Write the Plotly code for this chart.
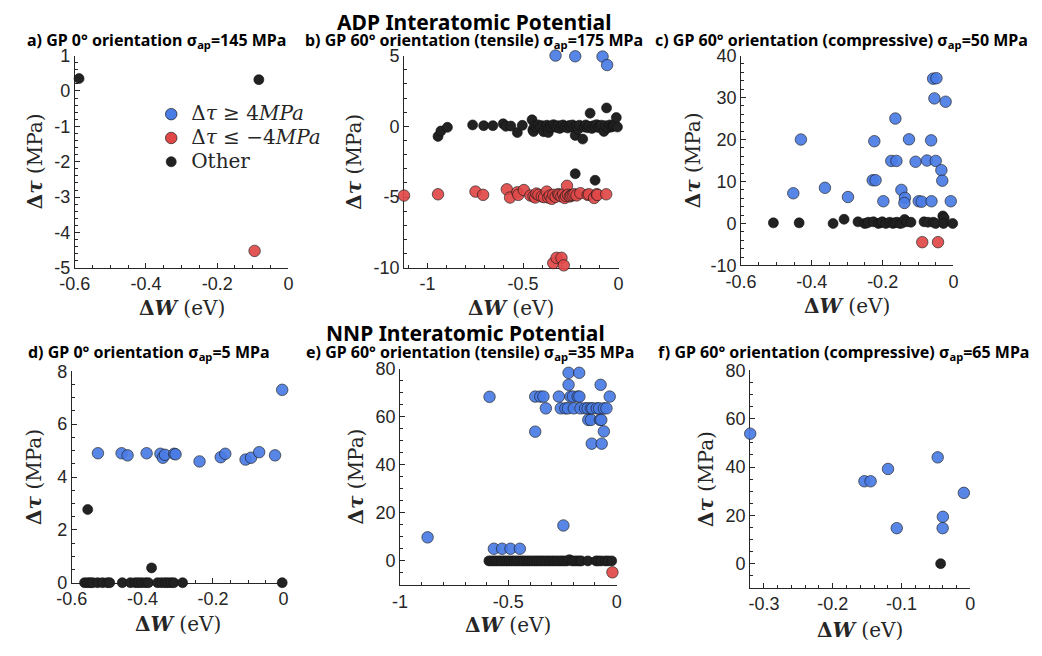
import plotly.graph_objects as go

W, H = 1042, 656

# ---------------- data ----------------
# panel a (ADP, GP 0deg, 145 MPa)
a_blue_x = []
a_blue_y = []
a_red_x = [-0.095]
a_red_y = [-4.52]
a_blk_x = [-0.588, -0.083]
a_blk_y = [0.35, 0.32]

# panel b (ADP, GP 60deg tensile, 175 MPa)
b_blue_x = [-0.33, -0.227, -0.084, -0.06]
b_blue_y = [5.0, 4.95, 4.93, 4.33]
b_red_x = [-1.123, -0.945, -0.749, -0.709, -0.585, -0.568, -0.530, -0.525, -0.496,
           -0.4615, -0.445, -0.436, -0.430, -0.419, -0.402, -0.390, -0.376, -0.368, -0.360,
           -0.350, -0.342, -0.330, -0.316, -0.310, -0.299, -0.290, -0.282, -0.275, -0.270,
           -0.265, -0.255, -0.248, -0.240, -0.231, -0.220, -0.200, -0.162, -0.155, -0.128,
           -0.114, -0.111, -0.065,
           -0.342, -0.325, -0.299, -0.287]
b_red_y = [-4.89, -4.80, -4.61, -4.84, -4.45, -5.03, -4.66, -4.84, -4.50,
           -4.89, -4.95, -5.03, -4.75, -4.84, -4.95, -5.00, -4.61, -5.03, -4.90,
           -5.12, -4.84, -4.98, -4.79, -4.85, -4.95, -4.80, -5.06, -4.92, -4.20,
           -4.84, -4.95, -4.89, -4.85, -4.79, -4.88, -4.72, -4.84, -4.80, -5.06,
           -4.79, -4.85, -4.80,
           -9.66, -9.29, -9.29, -9.82]
b_blk_x = [-0.945, -0.930, -0.896, -0.764, -0.706, -0.658, -0.604, -0.590, -0.564, -0.530,
           -0.504, -0.453, -0.449, -0.445, -0.440, -0.430, -0.420, -0.410, -0.400, -0.392,
           -0.383, -0.375, -0.368, -0.366, -0.358, -0.350, -0.341, -0.333, -0.325, -0.316,
           -0.308, -0.300, -0.291, -0.283, -0.275, -0.266, -0.258, -0.250, -0.241, -0.233,
           -0.227, -0.220, -0.212, -0.205, -0.188, -0.180, -0.172, -0.163, -0.155, -0.149,
           -0.140, -0.132, -0.123, -0.115, -0.106, -0.098, -0.090, -0.077, -0.070, -0.063,
           -0.055, -0.046, -0.038, -0.030, -0.026, -0.020, -0.012, -0.006,
           -0.227, -0.123]
b_blk_y = [-0.71, -0.33, -0.07, 0.10, 0.05, 0.05, 0.18, 0.00, 0.02, -0.44,
           0.07, 0.46, -0.25, -0.37, 0.03, -0.05, 0.10, -0.02, 0.05, -0.38,
           0.00, 0.08, -0.44, -0.10, 0.02, -0.05, 0.12, 0.00, -0.08, 0.05,
           -0.15, 0.03, 0.10, -0.05, 0.00, -0.12, 0.06, -0.02, 0.10, -0.08,
           -0.64, 0.00, -0.20, 0.08, -0.90, -0.05, 0.10, -0.10, 0.00, 0.93,
           -0.15, 0.05, -0.05, 0.12, -0.08, 0.00, 0.08, -0.36, 0.05, 1.30,
           -0.10, 0.10, -0.05, 0.00, 0.05, 0.12, 0.62, -0.05,
           -3.35, -3.81]

# panel c (ADP, GP 60deg compressive, 50 MPa)
c_blue_x = [-0.4525, -0.431, -0.363, -0.298, -0.228, -0.220, -0.2235, -0.198, -0.1755, -0.161,
            -0.164, -0.147, -0.137, -0.1385, -0.1255, -0.107, -0.098, -0.0897, -0.0748, -0.063,
            -0.062, -0.0573, -0.048, -0.0537, -0.050, -0.034, -0.0315, -0.022, -0.0075]
c_blue_y = [7.2, 20.0, 8.5, 6.3, 10.3, 10.3, 19.6, 5.3, 14.9, 14.9,
            25.0, 8.0, 6.1, 4.9, 20.05, 14.7, 5.3, 5.2, 15.0, 19.8,
            5.3, 34.5, 34.6, 29.8, 14.9, 12.7, 10.2, 29.0, 5.3]
c_red_x = [-0.088, -0.0435]
c_red_y = [-4.45, -4.45]
c_blk_x = [-0.5087, -0.436, -0.340, -0.309, -0.2697, -0.251, -0.245, -0.240, -0.226, -0.212,
           -0.205, -0.201, -0.191, -0.180, -0.171, -0.165, -0.159, -0.151, -0.145, -0.138,
           -0.131, -0.120, -0.083, -0.072, -0.057, -0.050, -0.030, -0.026, -0.028, -0.002]
c_blk_y = [0.15, 0.15, 0.0, 1.0, 0.4, 0.0, 0.1, 0.3, 0.4, 0.0,
           0.2, 0.4, 0.0, 0.3, 0.0, 0.2, 0.3, 0.0, 0.1, 0.95,
           0.4, 0.3, 0.4, 0.3, 0.3, 0.0, 1.8, 1.3, 0.0, 0.0]

# panel d (NNP, GP 0deg, 5 MPa)
d_blue_x = [-0.526, -0.459, -0.442, -0.388, -0.349, -0.342, -0.336, -0.310, -0.306,
            -0.238, -0.178, -0.165, -0.1075, -0.092, -0.069, -0.024, -0.0037]
d_blue_y = [4.90, 4.90, 4.82, 4.90, 4.88, 4.73, 4.84, 4.88, 4.86,
            4.59, 4.75, 4.88, 4.66, 4.73, 4.94, 4.82, 7.30]
d_blk_x = [-0.555, -0.374, -0.564, -0.555, -0.548, -0.541, -0.527, -0.513, -0.499, -0.4926,
           -0.457, -0.434, -0.420, -0.411, -0.402, -0.391, -0.383, -0.357, -0.346, -0.336,
           -0.328, -0.319, -0.311, -0.286, -0.0037]
d_blk_y = [2.77, 0.56, 0, 0, 0, 0, 0, 0, 0, 0,
           0, 0, 0, 0, 0, 0, 0, 0, 0, 0,
           0, 0, 0, 0, 0]

# panel e (NNP, GP 60deg tensile, 35 MPa)
e_blue_x = [-0.873, -0.587, -0.567, -0.529, -0.490, -0.447, -0.246,
            -0.376, -0.376, -0.353, -0.338, -0.327, -0.267, -0.258, -0.237, -0.225, -0.222,
            -0.173, -0.222, -0.213, -0.202, -0.198, -0.180, -0.172, -0.167, -0.146, -0.134,
            -0.131, -0.119, -0.119, -0.115, -0.112, -0.092, -0.081, -0.077, -0.074, -0.071,
            -0.069, -0.059, -0.059, -0.047, -0.032]
e_blue_y = [9.8, 68.3, 5.06, 5.06, 5.06, 5.06, 14.75,
            53.8, 68.4, 68.4, 68.4, 63.5, 68.4, 63.5, 63.5, 63.5, 78.3,
            78.3, 73.3, 68.4, 68.4, 63.5, 68.4, 68.4, 63.5, 63.5, 63.5,
            58.7, 63.5, 58.7, 48.8, 63.5, 63.5, 63.5, 58.7, 73.3, 58.7,
            48.8, 53.9, 63.5, 63.5, 68.4]
e_red_x = [-0.0195]
e_red_y = [-4.75]
e_blk_x = [-0.590, -0.578, -0.566, -0.555, -0.543, -0.531, -0.520, -0.508, -0.497, -0.485,
           -0.473, -0.462, -0.450, -0.438, -0.427, -0.415, -0.404, -0.392, -0.380, -0.369,
           -0.357, -0.346, -0.334, -0.322, -0.311, -0.299, -0.288, -0.276, -0.264, -0.253,
           -0.241, -0.229, -0.218, -0.206, -0.195, -0.183, -0.172, -0.163, -0.133, -0.095,
           -0.085, -0.072, -0.053, -0.040, -0.023]
e_blk_y = [0, 0, 0, 0, 0, 0, 0, 0, 0, 0,
           0, 0, 0, 0, 0, 0, 0, 0, 0, 0,
           0, 0, 0, 0, 0, 0, 0, 0, 0, 0,
           0, 0, 0.5, 0, 0, 0, 0, 0, 0, 0,
           0, 0, 0, 0, 0]

# panel f (NNP, GP 60deg compressive, 65 MPa)
f_blue_x = [-0.32, -0.154, -0.145, -0.1197, -0.107, -0.0475, -0.040, -0.0403, -0.0095]
f_blue_y = [53.8, 34.1, 34.1, 39.2, 14.7, 44.0, 19.4, 14.7, 29.3]
f_blk_x = [-0.0432]
f_blk_y = [0.0]

# tick labels
ticks_x06 = [-0.6, -0.4, -0.2, 0]
ticks_x06_lab = ["-0.6", "-0.4", "-0.2", "0"]
ticks_x1 = [-1, -0.5, 0]
ticks_x1_lab = ["-1", "-0.5", "0"]
ticks_x03 = [-0.3, -0.2, -0.1, 0]
ticks_x03_lab = ["-0.3", "-0.2", "-0.1", "0"]
ticks_ya = [-5, -4, -3, -2, -1, 0, 1]
ticks_ya_lab = ["-5", "-4", "-3", "-2", "-1", "0", "1"]
ticks_yb = [-10, -5, 0, 5]
ticks_yb_lab = ["-10", "-5", "0", "5"]
ticks_yc = [-10, 0, 10, 20, 30, 40]
ticks_yc_lab = ["-10", "0", "10", "20", "30", "40"]
ticks_yd = [0, 2, 4, 6, 8]
ticks_yd_lab = ["0", "2", "4", "6", "8"]
ticks_ye = [0, 20, 40, 60, 80]
ticks_ye_lab = ["0", "20", "40", "60", "80"]

titles = ["a) GP 0° orientation σ<sub>ap</sub>=145 MPa",
          "b) GP 60° orientation (tensile) σ<sub>ap</sub>=175 MPa",
          "c) GP 60° orientation (compressive) σ<sub>ap</sub>=50 MPa",
          "d) GP 0° orientation σ<sub>ap</sub>=5 MPa",
          "e) GP 60° orientation (tensile) σ<sub>ap</sub>=35 MPa",
          "f) GP 60° orientation (compressive) σ<sub>ap</sub>=65 MPa"]

# ---------------- style ----------------
BLUE = "#4a7ce6"
RED = "#e04848"
BLK = "#222222"
AXC = "#262626"
TICKFONT = dict(family="Liberation Sans, Arial, sans-serif", size=18, color=AXC)
SERIF = "DejaVu Serif, Liberation Serif, serif"

# panel geometry in pixels: (left, right, top, bottom)
geo = [(60, 278, 47, 266), (396, 615, 47, 266), (740, 956.7, 47, 263.5),
       (57, 273, 372.7, 590.7), (392, 613, 370, 593), (749.3, 974, 371.7, 596)]
xr = [[-0.6, 0], [-1.123, 0], [-0.6, 0], [-0.6, 0], [-1, 0], [-0.32, 0]]
yr = [[-5, 1], [-10, 5], [-10, 40], [0, 8], [-10, 80], [-10, 80]]
xt = [(ticks_x06, ticks_x06_lab, 0.05), (ticks_x1, ticks_x1_lab, 0.1), (ticks_x06, ticks_x06_lab, 0.05),
      (ticks_x06, ticks_x06_lab, 0.05), (ticks_x1, ticks_x1_lab, 0.1), (ticks_x03, ticks_x03_lab, 0.02)]
yt = [(ticks_ya, ticks_ya_lab, 0.2), (ticks_yb, ticks_yb_lab, 1), (ticks_yc, ticks_yc_lab, 2),
      (ticks_yd, ticks_yd_lab, 0.5), (ticks_ye, ticks_ye_lab, 5), (ticks_ye, ticks_ye_lab, 5)]

data = [
    (a_blue_x, a_blue_y, a_red_x, a_red_y, a_blk_x, a_blk_y),
    (b_blue_x, b_blue_y, b_red_x, b_red_y, b_blk_x, b_blk_y),
    (c_blue_x, c_blue_y, c_red_x, c_red_y, c_blk_x, c_blk_y),
    (d_blue_x, d_blue_y, [], [], d_blk_x, d_blk_y),
    (e_blue_x, e_blue_y, e_red_x, e_red_y, e_blk_x, e_blk_y),
    (f_blue_x, f_blue_y, [], [], f_blk_x, f_blk_y),
]

fig = go.Figure()
legend_names = ["Δ<i>τ</i> ≥ 4<i>MPa</i>", "Δ<i>τ</i> ≤ −4<i>MPa</i>", "Other"]

for i, (bx, by, rx, ry, kx, ky) in enumerate(data):
    suffix = "" if i == 0 else str(i + 1)
    common = dict(xaxis="x" + suffix, yaxis="y" + suffix, mode="markers", cliponaxis=False)
    fig.add_trace(go.Scatter(x=kx, y=ky, name=legend_names[2], showlegend=False,
                             marker=dict(size=10, color=BLK, line=dict(color="#111111", width=0.6)),
                             **common))
    fig.add_trace(go.Scatter(x=rx, y=ry, name=legend_names[1], showlegend=False,
                             marker=dict(size=11.5, color=RED, opacity=0.92, line=dict(color="#1a1a1a", width=0.7)),
                             **common))
    fig.add_trace(go.Scatter(x=bx, y=by, name=legend_names[0], showlegend=False,
                             marker=dict(size=11.5, color=BLUE, opacity=0.92, line=dict(color="#1a1a1a", width=0.7)),
                             **common))

# legend-only traces (panel a)
for name, col, sz in [(legend_names[0], BLUE, 11.5), (legend_names[1], RED, 11.5), (legend_names[2], BLK, 10)]:
    fig.add_trace(go.Scatter(x=[None], y=[None], name='<span style="font-size:20px">' + name + '</span>',
                             mode="markers", xaxis="x", yaxis="y",
                             marker=dict(size=sz, color=col, line=dict(color="#1a1a1a", width=0.7))))

layout = dict(width=W, height=H, margin=dict(l=0, r=0, t=0, b=0),
              paper_bgcolor="white", plot_bgcolor="white",
              showlegend=True,
              legend=dict(x=138 / W, y=1 - 90 / H, xanchor="left", yanchor="top",
                          bgcolor="rgba(0,0,0,0)", font=dict(family=SERIF, size=16, color=AXC),
                          tracegroupgap=0, itemsizing="trace", itemwidth=30))

annotations = []
for i in range(6):
    l, r, t, b = geo[i]
    suffix = "" if i == 0 else str(i + 1)
    xtv, xtl, xminor = xt[i]
    ytv, ytl, yminor = yt[i]
    layout["xaxis" + suffix] = dict(
        domain=[l / W, r / W], anchor="y" + suffix, range=xr[i], showgrid=False, zeroline=False,
        showline=True, linecolor=AXC, linewidth=1, ticks="inside", ticklen=5, tickcolor=AXC,
        tickvals=xtv, ticktext=xtl, tickfont=TICKFONT, layer="below traces",
        minor=dict(ticks="inside", ticklen=3, dtick=xminor, tickcolor=AXC, showgrid=False))
    layout["yaxis" + suffix] = dict(
        domain=[1 - b / H, 1 - t / H], anchor="x" + suffix, range=yr[i], showgrid=False, zeroline=False,
        showline=True, linecolor=AXC, linewidth=1, ticks="inside", ticklen=5, tickcolor=AXC,
        tickvals=ytv, ticktext=ytl, tickfont=TICKFONT, layer="below traces",
        minor=dict(ticks="inside", ticklen=3, dtick=yminor, tickcolor=AXC, showgrid=False))

# axis titles (pixel positions)
xlab_pos = [(169, 307), (505.5, 307), (848, 305), (165, 633), (502.5, 634), (861.7, 640)]
ylab_pos = [(19, 156.5), (345, 156.5), (691, 155), (19, 482), (346.7, 481.5), (704, 484)]
for (px, py) in xlab_pos:
    annotations.append(dict(x=px / W, y=1 - py / H, xref="paper", yref="paper", showarrow=False,
                            xanchor="center", yanchor="middle",
                            text="<b>Δ<i>W</i></b> (eV)", font=dict(family=SERIF, size=20, color=AXC)))
for (px, py) in ylab_pos:
    annotations.append(dict(x=px / W, y=1 - py / H, xref="paper", yref="paper", showarrow=False,
                            xanchor="center", yanchor="middle", textangle=-90,
                            text="<b>Δ<i>τ</i></b> (MPa)", font=dict(family=SERIF, size=20, color=AXC)))

# subplot titles
tpos = [(143.5, 31), (467.5, 31), (842.5, 31), (135.5, 353), (463, 353), (845, 353)]
for (px, py), txt in zip(tpos, titles):
    annotations.append(dict(x=px / W, y=1 - py / H, xref="paper", yref="paper", showarrow=False,
                            xanchor="center", yanchor="middle", text="<b>" + txt + "</b>",
                            font=dict(family="Noto Sans, Open Sans, sans-serif", size=16, color="black")))
# main titles
for (px, py), txt in [((467, 12), "ADP Interatomic Potential"), ((459, 333), "NNP Interatomic Potential")]:
    annotations.append(dict(x=px / W, y=1 - py / H, xref="paper", yref="paper", showarrow=False,
                            xanchor="center", yanchor="middle", text="<b>" + txt + "</b>",
                            font=dict(family="Noto Sans, Open Sans, sans-serif", size=21, color="black")))

layout["annotations"] = annotations
fig.update_layout(**layout)
fig.write_html("out.html")
